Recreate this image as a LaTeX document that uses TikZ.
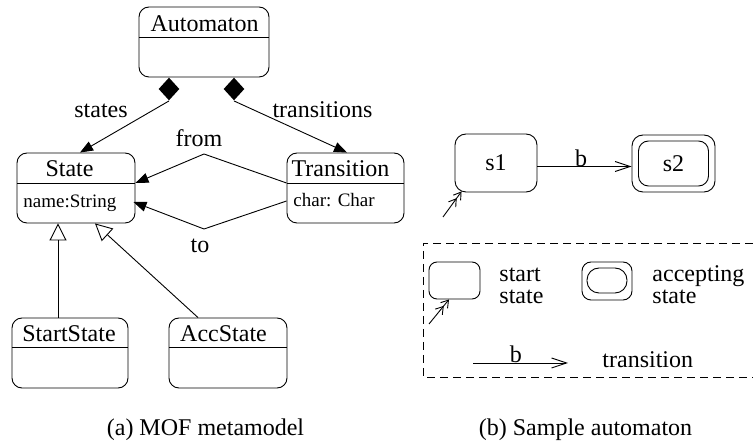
\documentclass[tikz,border=0pt]{standalone}
\usepackage{fontspec}
\setmainfont{Liberation Serif}
\usetikzlibrary{arrows.meta,shapes.geometric}

\tikzset{
  big/.style={font=\fontsize{24pt}{28pt}\selectfont, inner sep=0pt},
  small/.style={font=\fontsize{19pt}{22pt}\selectfont, inner sep=0pt},
  classbox/.style={draw, rounded corners=10pt, inner sep=0pt},
  statebox/.style={draw, rounded corners=11pt, inner sep=0pt, big},
  compo/.style={diamond, fill=black, inner sep=0pt, minimum width=21pt, minimum height=23pt},
  assoc/.style={-{Triangle[length=13pt,width=10pt]}},
  general/.style={-{Triangle[open,length=17pt,width=17pt,fill=white]}},
  transarr/.style={-{Straight Barb[length=15pt,width=10pt]}},
  startarr/.style={-{Straight Barb[length=7pt,width=9pt] Straight Barb[length=7pt,width=9pt]}},
  frame/.style={dash pattern=on 8pt off 5pt},
}

\begin{document}
\begin{tikzpicture}[x=1pt, y=-1pt, line width=0.9pt, line join=miter]
\useasboundingbox (0,0) rectangle (753,443);

% ---------- metamodel classes ----------
\node[classbox, minimum width=130pt, minimum height=70pt] (auto) at (204,42) {};
\draw (139,37) -- (269,37);
\node[big, anchor=base] (autoT) at (204.5,32) {Automaton};

\node[classbox, minimum width=118pt, minimum height=70pt] (state) at (76,188) {};
\draw (17,183) -- (135,183);
\node[big, anchor=base] (stateT) at (69.5,177) {State};
\node[small, anchor=base west] (stateA) at (23,208) {name:String};

\node[classbox, minimum width=117pt, minimum height=70pt] (trans) at (345.5,188) {};
\draw (287,183) -- (404,183);
\node[big, anchor=base] (transT) at (340.5,177) {Transition};
\node[small, anchor=base west] (transA) at (293,207) {char: Char};

\node[classbox, minimum width=116pt, minimum height=70pt] (startst) at (70,353) {};
\draw (12,347) -- (128,347);
\node[big, anchor=base] (startT) at (69,342) {StartState};

\node[classbox, minimum width=118pt, minimum height=70pt] (accst) at (228,353) {};
\draw (169,347) -- (287,347);
\node[big, anchor=base] (accT) at (223.5,342) {AccState};

% ---------- composition and associations ----------
\node[compo] (dL) at (169,89) {};
\node[compo] (dR) at (234,89) {};
\draw[assoc] (dL.south) -- ([xshift=4pt]state.north);
\draw[assoc] (dR.south) -- ([xshift=1.5pt]trans.north);
\node[big, anchor=base] (lstates) at (101,118) {states};
\node[big, anchor=base] (ltrans) at (322.5,118) {transitions};

\coordinate (kfrom) at (204,154);
\coordinate (kto) at (204,229);
\draw[assoc] ([yshift=5pt]trans.west) -- (kfrom) -- ([yshift=5pt]state.east);
\draw[assoc] ([yshift=-13pt]trans.west) -- (kto) -- ([xshift=-2pt,yshift=-14pt]state.east);
\node[big, anchor=base] (lfrom) at (199,147) {from};
\node[big, anchor=base] (lto) at (200,253) {to};

% ---------- generalisations ----------
\draw[general] ([xshift=-12pt]startst.north) -- ([xshift=-18pt]state.south);
\draw[general] ([xshift=-30pt]accst.north) -- ([xshift=19pt]state.south);

% ---------- sample automaton ----------
\node[statebox, minimum width=82pt, minimum height=58pt] (s1) at (496,163) {s1};
\node[statebox, minimum width=83pt, minimum height=57pt] (s2o) at (673.5,163.5) {};
\node[statebox, rounded corners=10pt, minimum width=70pt, minimum height=45pt] (s2) at (673.5,163.5) {s2};
\draw[transarr] ([yshift=-3.5pt]s1.east) -- node[big, pos=0.463, anchor=base] (lb) {b} ([yshift=-3pt]s2o.west);
\coordinate (st0) at (443,217);
\draw[startarr] (st0) -- ([xshift=7pt,yshift=1pt]s1.south west);

% ---------- legend ----------
\draw[frame] (753,243) -- (423,243) -- (423,377) -- (753,377);

\node[draw, rounded corners=8pt, minimum width=51pt, minimum height=37pt, inner sep=0pt] (lstart) at (454.5,280.5) {};
\coordinate (lst0) at (429,324);
\draw[startarr] (lst0) -- ([xshift=-5.5pt]lstart.south);
\node[big, anchor=base west] (tstart1) at (499,282) {start};
\node[big, anchor=base west] (tstart2) at (499,304) {state};

\node[draw, rounded corners=9pt, minimum width=50pt, minimum height=38pt, inner sep=0pt] (lacco) at (607,281) {};
\node[draw, rounded corners=12pt, minimum width=40pt, minimum height=25pt, inner sep=0pt] (lacci) at (607,280.5) {};
\node[big, anchor=base west] (tacc1) at (652,282) {accepting};
\node[big, anchor=base west] (tacc2) at (652,304) {state};

\coordinate (lt0) at (473,363);
\coordinate (lt1) at (568,363);
\draw[transarr] (lt0) -- node[big, pos=0.45, anchor=base] (ltb) {b} (lt1);
\node[big, anchor=base west] (ttrans) at (602,368) {transition};

% ---------- captions ----------
\node[big, anchor=base] (capa) at (205.5,436) {(a) MOF metamodel};
\node[big, anchor=base] (capb) at (585.5,436) {(b) Sample automaton};
\end{tikzpicture}
\end{document}
